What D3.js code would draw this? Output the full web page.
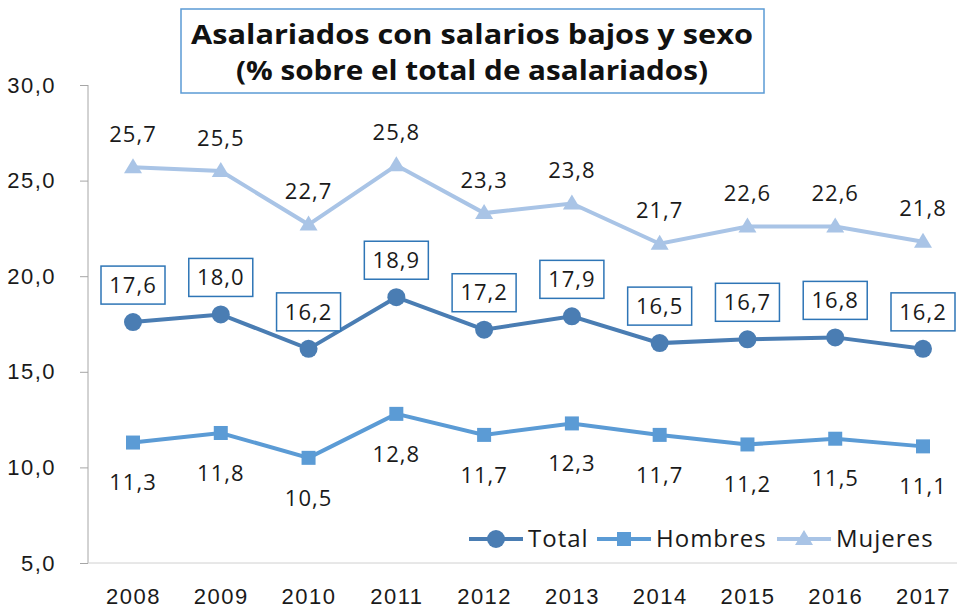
<!DOCTYPE html>
<html lang="es">
<head>
<meta charset="UTF-8">
<title>Asalariados con salarios bajos y sexo</title>
<script src="https://d3js.org/d3.v7.min.js"></script>
<style>
    body { margin: 0; background: #fff; font-family: "Open Sans", Lato, sans-serif; }
    .tick text { font-size: 22px; fill: #1a1a1a; letter-spacing: 1.5px; }
    .lbl { font-size: 22px; fill: #1a1a1a; letter-spacing: 1px; }
</style>
</head>
<body>
<div id="chart"></div>
<script>
// data
const years = ["2008","2009","2010","2011","2012","2013","2014","2015","2016","2017"];
const total    = [17.6, 18.0, 16.2, 18.9, 17.2, 17.9, 16.5, 16.7, 16.8, 16.2];
const hombres  = [11.3, 11.8, 10.5, 12.8, 11.7, 12.3, 11.7, 11.2, 11.5, 11.1];
const mujeres  = [25.7, 25.5, 22.7, 25.8, 23.3, 23.8, 21.7, 22.6, 22.6, 21.8];
const yTicks = [5, 10, 15, 20, 25, 30];
const titleLines = ["Asalariados con salarios bajos y sexo", "(% sobre el total de asalariados)"];

const W = 957, H = 612;
const fmt = v => d3.format(".1f")(v).replace(".", ",");

const svg = d3.select("#chart").append("svg")
    .attr("width", W).attr("height", H);

const x = d3.scalePoint().domain(years).range([133, 923]);
const y = d3.scaleLinear().domain([5, 30]).range([563, 85]);

// y axis
const yAxis = svg.append("g")
    .attr("transform", "translate(88,0)")
    .call(d3.axisLeft(y).tickValues(yTicks).tickFormat(fmt).tickSize(8).tickPadding(24));
yAxis.select(".domain").attr("stroke", "#a6a6a6").attr("d", `M0,${y(30)}V${y(5)}`);
yAxis.selectAll(".tick line").attr("stroke", "#a6a6a6");

// x axis
const xAxis = svg.append("g")
    .attr("transform", `translate(0,${y(5)})`)
    .call(d3.axisBottom(x).tickSize(0).tickPadding(30));
xAxis.select(".domain").attr("stroke", "#d0d0d0").attr("d", `M88,0H${W}`);
xAxis.selectAll(".tick text").attr("dy", "0.5em");

const series = [
    { name: "Mujeres", values: mujeres, color: "#a9c4e6", marker: "tri" },
    { name: "Hombres", values: hombres, color: "#5b9bd5", marker: "sq" },
    { name: "Total",   values: total,   color: "#4a7db3", marker: "circ" }
];

function drawMarker(g, m, color, cx, cy) {
    if (m === "circ") {
        g.append("circle").attr("cx", cx).attr("cy", cy).attr("r", 9).attr("fill", color);
    } else if (m === "sq") {
        g.append("rect").attr("x", cx - 7).attr("y", cy - 7).attr("width", 14).attr("height", 14).attr("fill", color);
    } else {
        g.append("path").attr("d", `M${cx},${cy - 9}L${cx + 9},${cy + 6}L${cx - 9},${cy + 6}Z`).attr("fill", color);
    }
}

const line = d3.line().x((d, i) => x(years[i])).y(d => y(d));

series.forEach(s => {
    const g = svg.append("g");
    g.append("path").datum(s.values).attr("d", line)
        .attr("fill", "none").attr("stroke", s.color).attr("stroke-width", 4);
    s.values.forEach((v, i) => drawMarker(g, s.marker, s.color, x(years[i]), y(v)));
});

// data labels
mujeres.forEach((v, i) => {
    svg.append("text").attr("class", "lbl").attr("text-anchor", "middle")
        .attr("x", x(years[i])).attr("y", y(v) - 33).attr("dy", "0.35em").text(fmt(v));
});
hombres.forEach((v, i) => {
    svg.append("text").attr("class", "lbl").attr("text-anchor", "middle")
        .attr("x", x(years[i])).attr("y", y(v) + 40).attr("dy", "0.35em").text(fmt(v));
});
total.forEach((v, i) => {
    const cx = x(years[i]), cy = y(v) - 37;
    svg.append("rect").attr("x", cx - 32).attr("y", cy - 19).attr("width", 64).attr("height", 38)
        .attr("fill", "#fff").attr("stroke", "#2e75b6").attr("stroke-width", 1.5);
    svg.append("text").attr("class", "lbl").attr("text-anchor", "middle")
        .attr("x", cx).attr("y", cy).attr("dy", "0.35em").text(fmt(v));
});

// title
svg.append("rect").attr("x", 181).attr("y", 9).attr("width", 583).attr("height", 84)
    .attr("fill", "#fff").attr("stroke", "#5b9bd5").attr("stroke-width", 1.5);
const titleWidths = [562, 472];
titleLines.forEach((t, i) => {
    svg.append("text").attr("x", 472).attr("y", 35 + i * 36).attr("dy", "0.35em")
        .attr("text-anchor", "middle").attr("font-size", 26).attr("font-weight", "bold")
        .attr("textLength", titleWidths[i]).attr("lengthAdjust", "spacingAndGlyphs")
        .attr("fill", "#111").text(t);
});

// legend
const legend = [
    { name: "Total", color: "#4a7db3", marker: "circ", x: 469 },
    { name: "Hombres", color: "#5b9bd5", marker: "sq", x: 597 },
    { name: "Mujeres", color: "#a9c4e6", marker: "tri", x: 777 }
];
legend.forEach(l => {
    const g = svg.append("g");
    g.append("line").attr("x1", l.x).attr("x2", l.x + 54).attr("y1", 539).attr("y2", 539)
        .attr("stroke", l.color).attr("stroke-width", 4);
    drawMarker(g, l.marker, l.color, l.x + 27, 539);
    g.append("text").attr("x", l.x + 59).attr("y", 539).attr("dy", "0.35em")
        .attr("font-size", 24).attr("letter-spacing", 1).attr("fill", "#1a1a1a").text(l.name);
});
</script>
</body>
</html>
